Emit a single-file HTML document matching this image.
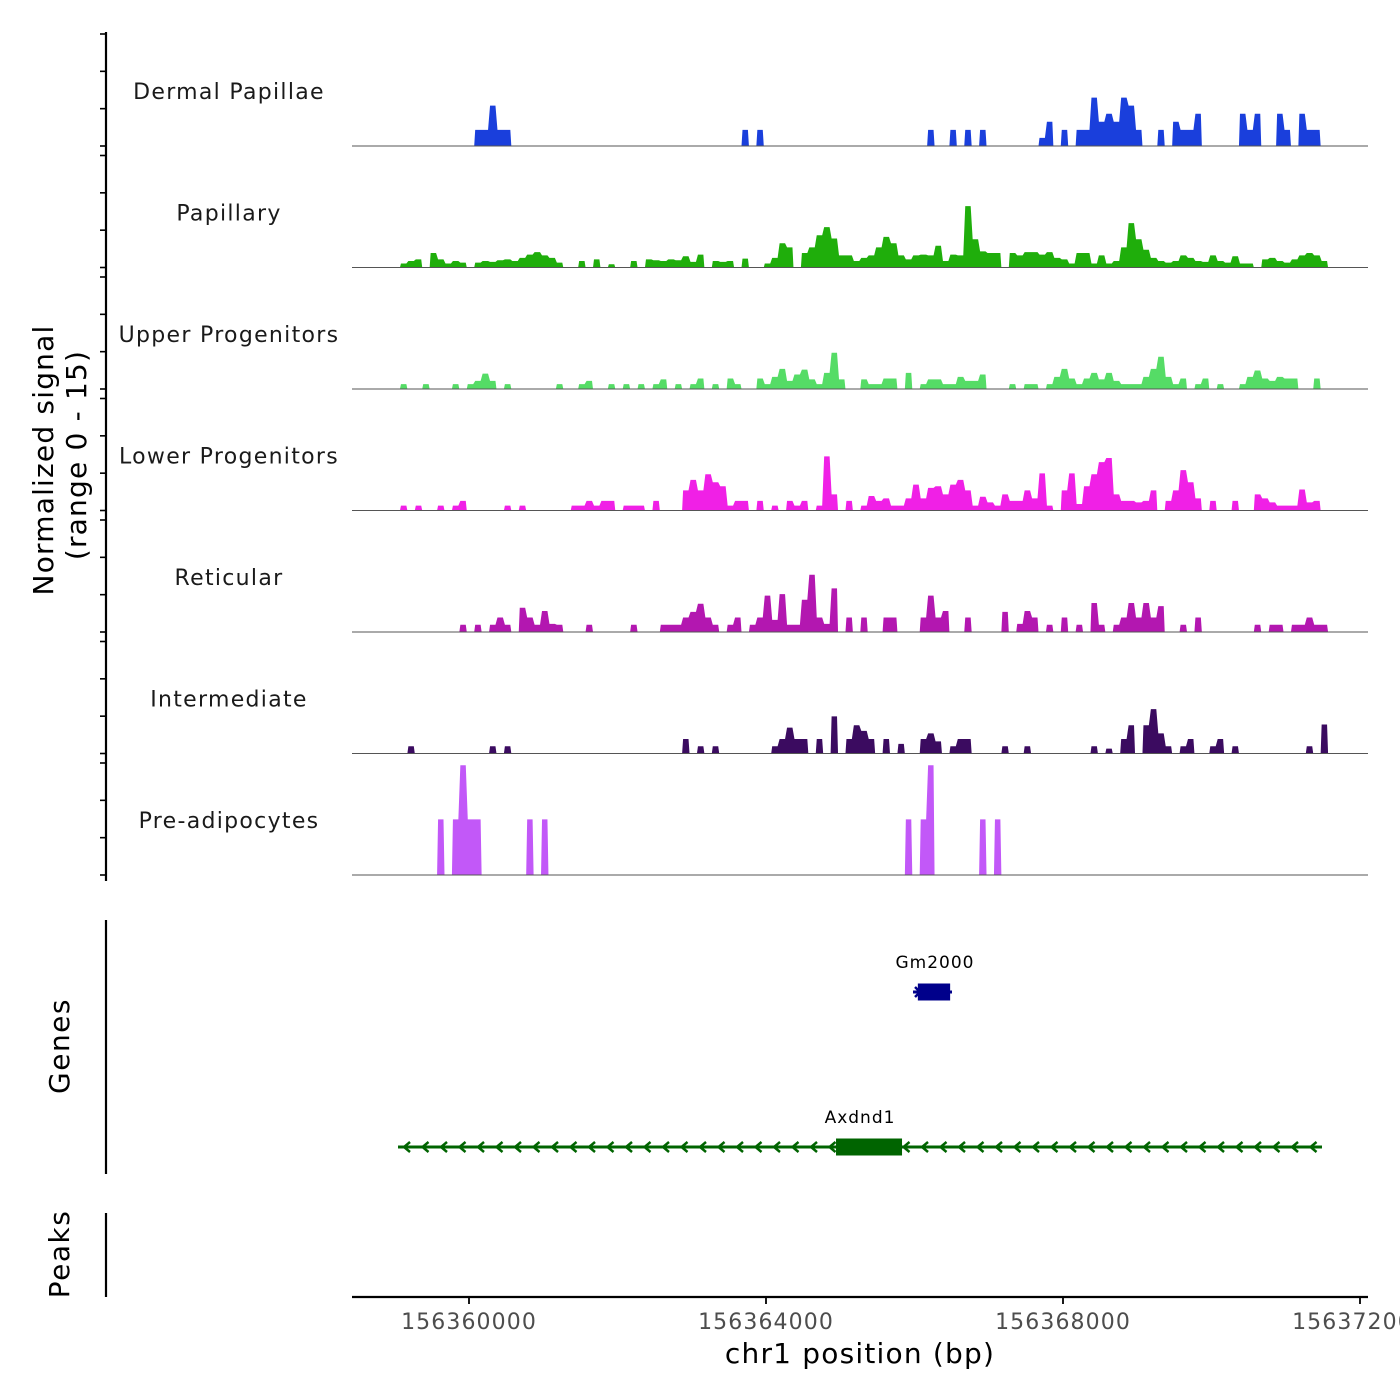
<!DOCTYPE html>
<html><head><meta charset="utf-8"><title>Coverage tracks</title>
<style>
html,body{margin:0;padding:0;background:#fff;}
svg{display:block;font-family:"DejaVu Sans","Liberation Sans",sans-serif;}
</style></head>
<body>
<svg id="chart" width="1400" height="1400" viewBox="0 0 1400 1400" xmlns="http://www.w3.org/2000/svg">
<rect width="1400" height="1400" fill="#fff"/>
<g id="tracks"></g>
<g id="yaxis"></g>
<text transform="translate(53,460) rotate(-90)" text-anchor="middle" font-size="28" letter-spacing="1.2" fill="#000">Normalized signal</text>
<text transform="translate(86,455) rotate(-90)" text-anchor="middle" font-size="28" letter-spacing="1.2" fill="#000">(range 0 - 15)</text>
<g id="genes"></g>
<line x1="106" y1="920" x2="106" y2="1174" stroke="#000" stroke-width="2.2"/>
<text transform="translate(69,1046) rotate(-90)" text-anchor="middle" font-size="28" letter-spacing="1.5" fill="#000">Genes</text>
<line x1="106" y1="1213" x2="106" y2="1297" stroke="#000" stroke-width="2.2"/>
<text transform="translate(69,1254) rotate(-90)" text-anchor="middle" font-size="28" letter-spacing="1.5" fill="#000">Peaks</text>
<g id="xaxis"></g>
<text x="860" y="1363" text-anchor="middle" font-size="28" letter-spacing="1.2" fill="#000">chr1 position (bp)</text>
</svg>
<script>
const trackNames = ["Dermal Papillae","Papillary","Upper Progenitors","Lower Progenitors","Reticular","Intermediate","Pre-adipocytes"];
const trackColors = ["#1a3fdc","#1fae0b","#55dc66","#f020e6","#b317b0","#3b0b60","#c258f8"];
const binStart = 156359070;
const binSize = 100;
const xTicks = [156360000,156364000,156368000,156372000];
const xTickLabels = ["156360000","156364000","156368000","156372000"];
const yTicks = [0,5,10,15];

const dermalPapillae = [
0,0,0,0,0,0,0,0,0,0,
2,2,5,2,2,0,0,0,0,0,
0,0,0,0,0,0,0,0,0,0,
0,0,0,0,0,0,0,0,0,0,
0,0,0,0,0,0,2,0,2,0,
0,0,0,0,0,0,0,0,0,0,
0,0,0,0,0,0,0,0,0,0,
0,2,0,0,2,0,2,0,2,0,
0,0,0,0,0,0,1,3,0,2,
0,2,2,6,3,4,3,6,5,2,
0,0,2,0,3,2,2,4,0,0,
0,0,0,4,2,4,0,0,4,2,
0,4,2,2,0];
const papillary = [
.5,.8,1,0,1.8,1,.5,.8,.6,0,
.6,.8,.7,.9,1,.8,1.2,1.6,1.9,1.5,
1.2,.6,0,0,.8,0,1,0,.4,0,
0,.8,0,1,.9,.8,1,.9,1.4,.7,
1.6,0,.8,.7,.8,0,1.1,0,0,.5,
1.2,3,2.5,0,1.8,2.5,4,5,3.6,1.5,
1.5,.8,1.2,1.5,2.5,3.8,3,1.5,1,1.5,
1.6,1.5,2.7,.8,1.6,1.5,7.6,3.5,2,1.8,
1.8,0,1.8,1.5,1.9,1.9,1.6,1.9,1.2,1,
.5,1.8,1.8,.5,1.5,.5,.8,2.5,5.5,3.5,
2.2,1.2,.8,.6,.8,1.5,1.2,.8,.7,1.5,
.8,.6,1.4,.5,.5,0,1,1.2,.8,.6,
1,1.5,1.8,1.5,.8];
const upperProgenitors = [
.6,0,0,.6,0,0,0,.6,0,.6,
1,1.9,1,0,.6,0,0,0,0,0,
0,.6,0,0,.6,1,0,0,.6,0,
.6,0,.6,0,.6,1.2,0,.6,0,.6,
1.3,0,.6,0,1.3,.6,0,0,1.3,.6,
1.5,2.5,1,1.8,2.4,1.2,.6,2,4.5,1.2,
0,0,1.2,.6,.6,1.3,1.3,0,2,0,
.6,1.2,1.2,.6,.6,1.5,1,1,1.8,0,
0,0,.6,0,.6,.6,0,.6,1.5,2.5,
1.3,.6,1.3,2,1.2,2,1,.6,.6,.6,
1.5,2.5,4,1.5,.6,1.3,0,.6,1.3,0,
.6,0,0,.6,1.5,2.3,1.3,1,1.5,1.3,
1.3,0,0,1.3,0];
const lowerProgenitors = [
.6,0,.6,0,0,.6,0,.6,1.2,0,
0,0,0,0,.6,0,.6,0,0,0,
0,0,0,.6,.6,1.2,.6,1.2,1.2,0,
.6,.6,.6,0,1.2,0,0,0,2.5,3.8,
2.5,4.5,3.5,3,.6,1.2,1.2,0,1.2,0,
.6,0,1.2,.6,1.2,0,.6,6.7,2,0,
1.2,0,.6,1.8,1.2,1.5,.6,.6,1.5,3.2,
1.5,2.8,3,2,3.2,3.8,2.5,.6,1.7,1,
.6,2,1.2,1.2,2.5,1.5,4.6,.6,0,2.5,
4.6,.8,3,4.5,6,6.5,2,1.2,1.2,1,
1.2,2.5,0,1.2,2.5,5,3.5,1.5,0,1.2,
0,0,1.2,0,0,2,1.5,1,.6,.6,
.6,2.6,1,1.2,0];
const reticular = [
0,0,0,0,0,0,0,0,.9,0,
.9,0,.9,1.8,.9,0,3,1.8,.9,2.6,
1,.9,0,0,0,.9,0,0,0,0,
0,.9,0,0,0,.9,.9,.9,1.8,2.5,
3.5,1.8,.9,0,.9,1.8,0,.9,1.8,4.5,
1.5,4.7,.9,.9,4,7.1,1.8,1,5.4,0,
1.8,0,1.8,0,0,1.8,1.8,0,0,0,
1.8,4.5,1.8,2.6,0,0,1.8,0,0,0,
0,2.5,0,1,2.6,1.8,0,.9,0,1.8,
0,.9,0,3.6,.9,0,.9,1.8,3.6,1.8,
3.6,1.8,3.2,0,0,.9,0,1.8,0,0,
0,0,0,0,0,.9,0,.9,.9,0,
.9,.9,1.8,.9,.9];
const intermediate = [
0,.9,0,0,0,0,0,0,0,0,
0,0,.9,0,.9,0,0,0,0,0,
0,0,0,0,0,0,0,0,0,0,
0,0,0,0,0,0,0,0,1.8,0,
.9,0,.9,0,0,0,0,0,0,0,
.9,1.8,3.2,1.8,1.8,0,1.8,0,4.6,0,
1.8,3.5,2.8,1.8,0,1.8,0,1.2,0,0,
1.8,2.5,1.5,0,.9,1.8,1.8,0,0,0,
0,.9,0,0,.9,0,0,0,0,0,
0,0,0,.9,0,.6,0,1.8,3.5,0,
3.5,5.5,2.5,.9,0,.9,1.8,0,0,.9,
1.8,0,.9,0,0,0,0,0,0,0,
0,0,.9,0,3.6];
const preAdipocytes = [
0,0,0,0,0,6.9,0,6.9,13.6,6.9,
6.9,0,0,0,0,0,0,6.9,0,6.9,
0,0,0,0,0,0,0,0,0,0,
0,0,0,0,0,0,0,0,0,0,
0,0,0,0,0,0,0,0,0,0,
0,0,0,0,0,0,0,0,0,0,
0,0,0,0,0,0,0,0,6.9,0,
6.9,13.6,0,0,0,0,0,0,6.9,0,
6.9,0,0,0,0,0,0,0,0,0,
0,0,0,0,0,0,0,0,0,0,
0,0,0,0,0,0,0,0,0,0,
0,0,0,0,0,0,0,0,0,0,
0,0,0,0,0];
const trackSeries = [dermalPapillae,papillary,upperProgenitors,lowerProgenitors,reticular,intermediate,preAdipocytes];

const geneNames = ["Gm2000","Axdnd1"];
const geneStarts = [156365980,156359044];
const geneEnds = [156366505,156371488];
const geneThickStarts = [156366045,156364943];
const geneThickEnds = [156366480,156365832];
const geneStrands = ["+","-"];
const geneColors = ["#00008b","#006400"];
const geneRowY = [992,1147];

const NS = "http://www.w3.org/2000/svg";
const X0 = 469, PXPERBP = 297/4000;
const plotLeft = 352, plotRight = 1368;
const baseTop = 146, trackStep = 121.5, unitPx = 8.07;
function xScale(bp){ return X0 + (bp - 156360000) * PXPERBP; }
function yScale(t, v){ return baseTop + t*trackStep - v*unitPx; }
function mk(tag, attrs, parent){
  const el = document.createElementNS(NS, tag);
  for (const k in attrs) el.setAttribute(k, attrs[k]);
  parent.appendChild(el);
  return el;
}

const tracksG = document.getElementById('tracks');
trackSeries.forEach((series, t) => {
  const base = yScale(t, 0);
  const g = mk('g', {}, tracksG);
  
  
  let d = '';
  let open = false;
  series.forEach((v, i) => {
    const xa = xScale(binStart + i*binSize), xb = xScale(binStart + (i+1)*binSize);
    if (v > 0) {
      if (!open) { d += 'M' + xa.toFixed(2) + ',' + base + ' '; open = true; }
      d += 'L' + (xa+1).toFixed(2) + ',' + yScale(t, v).toFixed(2) + ' L' + (xb-1).toFixed(2) + ',' + yScale(t, v).toFixed(2) + ' ';
    } else if (open) {
      d += 'L' + xa.toFixed(2) + ',' + base + ' Z '; open = false;
    }
  });
  if (open) { d += 'L' + xScale(binStart + series.length*binSize).toFixed(2) + ',' + base + ' Z'; }
  const area = mk('path', {d: d, fill: trackColors[t], stroke: 'none'}, g);
  
  
  const bl = mk('line', {x1: plotLeft, x2: plotRight, y1: base, y2: base, stroke: '#555', 'stroke-width': 1.1}, g);
  
  
  const lab = mk('text', {x: 229, y: base - 47, 'text-anchor': 'middle', 'font-size': 22, 'letter-spacing': 1.3, fill: '#1a1a1a'}, g);
  lab.textContent = trackNames[t];
  
  
});

const yaxisG = document.getElementById('yaxis');
const yl = mk('line', {x1: 106, x2: 106, y1: 32, y2: 881, stroke: '#000', 'stroke-width': 2.2}, yaxisG);


trackSeries.forEach((s, t) => {
  yTicks.forEach(v => {
    const y = baseTop + t*trackStep - v*(112/15);
    const tk = mk('line', {x1: 100, x2: 106, y1: y, y2: y, stroke: '#000', 'stroke-width': 1.6}, yaxisG);
    
    
  });
});

const genesG = document.getElementById('genes');
geneNames.forEach((name, i) => {
  const g = mk('g', {}, genesG);
  
  
  const y = geneRowY[i], col = geneColors[i];
  const xs = xScale(geneStarts[i]), xe = xScale(geneEnds[i]);
  const ln = mk('line', {x1: xs, x2: xe, y1: y, y2: y, stroke: col, 'stroke-width': 3}, g);
  
  
  const arrows = mk('path', {fill: 'none', stroke: col, 'stroke-width': 2.5}, g);
  let ad = '';
  if (geneStrands[i] === '-') {
    for (let x = xs + 6; x < xe - 8; x += 18.5) ad += 'M' + (x+6) + ',' + (y-5) + ' L' + x + ',' + y + ' L' + (x+6) + ',' + (y+5) + ' ';
  } else {
    const x = xs + 2; ad += 'M' + x + ',' + (y-5) + ' L' + (x+5) + ',' + y + ' L' + x + ',' + (y+5);
  }
  arrows.setAttribute('d', ad);
  
  
  const tx0 = xScale(geneThickStarts[i]), tx1 = xScale(geneThickEnds[i]);
  const ex = mk('rect', {x: tx0, y: y - 8.5, width: tx1 - tx0, height: 17, fill: col}, g);
  
  
  const lab = mk('text', {x: (i === 0 ? 935 : 860), y: y - 24, 'text-anchor': 'middle', 'font-size': 17, 'letter-spacing': 1, fill: '#000'}, g);
  lab.textContent = name;
  
  
});

const xaxisG = document.getElementById('xaxis');
const xl = mk('line', {x1: plotLeft, x2: plotRight, y1: 1297, y2: 1297, stroke: '#000', 'stroke-width': 2.2}, xaxisG);


xTicks.forEach((bp, i) => {
  const x = xScale(bp);
  const tk = mk('line', {x1: x, x2: x, y1: 1297, y2: 1304, stroke: '#000', 'stroke-width': 1.8}, xaxisG);
  
  
  const lb = mk('text', {x: x, y: 1329, 'text-anchor': 'middle', 'font-size': 22, 'letter-spacing': 1.1, fill: '#4d4d4d'}, xaxisG);
  lb.textContent = xTickLabels[i];
  
  
});
</script>
</body></html>
